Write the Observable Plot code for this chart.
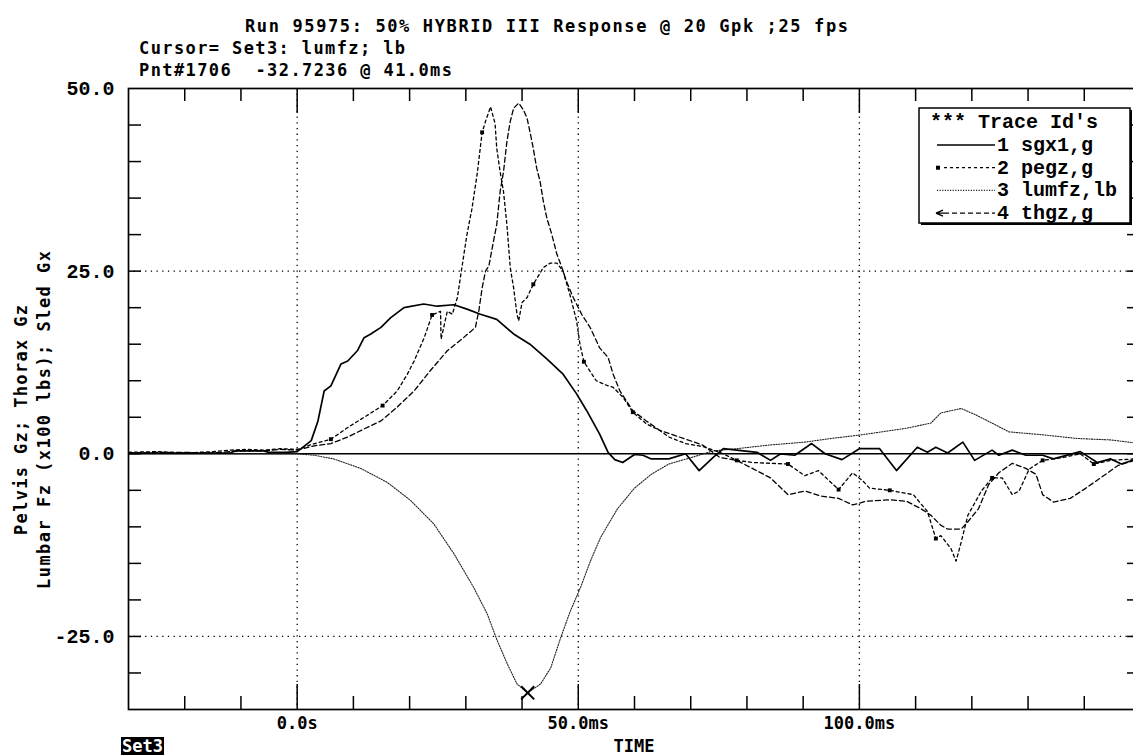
<!DOCTYPE html>
<html><head><meta charset="utf-8">
<script src="https://cdn.jsdelivr.net/npm/d3@7"></script>
<script src="https://cdn.jsdelivr.net/npm/@observablehq/plot@0.6"></script>
<style>html,body{margin:0;padding:0;background:#fff;overflow:hidden}</style>
</head><body><div id="chart"></div>
<script>
// ---- data (time ms, value) ----
const sgx1 = [[-30,0.1],[-20,0.1],[-12,0.1],[-11,0.4],[-6,0.4],[-5,0.2],[-2,0.2],[0,0.3],[0.7,0.7],[2.5,1.8],[3.7,4.5],[4.8,8.6],[6,9.3],[7.8,12.3],[9,12.7],[10.7,14.1],[11.9,15.9],[13.1,16.4],[14.9,17.3],[16.6,18.6],[19,20],[22.5,20.5],[24.9,20.2],[27.9,20.4],[30.2,19.8],[32.6,19.1],[35.5,18.4],[38.5,16.4],[41.4,15],[44.4,13],[47.3,10.9],[49.7,8.2],[51.5,5.9],[53.8,2.7],[55.3,0.2],[56.5,-0.8],[57.9,-1.2],[60,-0.1],[61.5,-0.2],[63,-0.7],[66.1,-0.7],[69.1,0],[71.5,-2.3],[74,-0.5],[75.8,0.7],[78.2,0.5],[81.8,0.2],[84.2,-0.9],[86,0],[88.5,-0.2],[91.5,1.4],[93.9,0],[96.9,-0.8],[100,0.7],[103.6,0.7],[106.6,-2.3],[110.3,0.9],[112.1,0.2],[113.6,0.9],[115.7,0.1],[118.4,1.6],[120.5,-0.9],[123.6,0.5],[124.8,-0.2],[127.2,0.5],[129.6,-0.2],[132.6,-0.2],[134.5,-0.7],[139.3,0.3],[142.3,-1.2],[144.7,-0.7],[146.6,-1.4],[150,-0.5]];

const pegz = [[-30,0.2],[-25,0.3],[-20,0.1],[-15,0.3],[-12,0.5],[-9,0.6],[-6,0.5],[-3,0.7],[0,0.6],[3.1,1.4],[6.0,2.0],[9.0,3.6],[11.9,5.0],[15.2,6.6],[17.8,8.6],[19.6,10.9],[20.8,12.7],[22.6,15.9],[24.0,19.0],[25.5,19.5],[25.6,15.7],[26.7,19.5],[27.6,19.1],[28.5,21.4],[29.3,25.5],[30.2,30],[31.1,33.6],[32.0,38.2],[32.9,44],[33.5,45.5],[34.4,47.5],[35.2,45.2],[35.5,41.8],[36.1,38.6],[36.7,35.9],[37.3,31.4],[37.9,25.5],[38.5,22.7],[39.1,19.1],[39.4,18.2],[40.0,20.7],[40.9,21.4],[42.0,23.2],[43.8,25.5],[45.0,26.1],[46.2,26.1],[47.3,25],[48.5,21.8],[49.7,18.2],[50.3,15],[51.0,12.6],[53.2,10],[55.3,9.3],[56.2,9.1],[58.0,7.7],[59.7,5.7],[62.1,4.1],[64.5,3.2],[66.1,2.3],[69.1,1.4],[72.1,1.0],[75.2,0.2],[78.2,-0.9],[81.2,-1.2],[84.2,-1.3],[87.3,-1.4],[90.3,-3.0],[92.7,-2.3],[96.3,-4.9],[98.8,-2.6],[100.6,-3.7],[101.8,-4.7],[105.4,-5.0],[109.6,-5.6],[112.1,-7.9],[113.6,-11.6],[114.5,-11.2],[116.3,-13.0],[117.2,-14.7],[118.1,-12.1],[119.3,-8.4],[121.7,-5.1],[123.6,-3.3],[125.4,-3.3],[127.2,-5.6],[128.4,-5.1],[130.2,-2.1],[132.6,-0.9],[136.3,-0.5],[139.3,0],[141.7,-1.4],[144.7,-0.9],[148.9,-0.7],[150,-0.6]];
const pegzMarkT = [6.0,15.2,24.0,32.9,42.0,51.0,59.7,78.2,87.3,96.3,105.4,113.6,123.6,132.6,141.7];

const lumfz = [[-30,0],[-10,0],[0,0],[3,-0.2],[6.5,-0.7],[11.3,-2.0],[16,-3.9],[20.2,-6.4],[24.3,-9.6],[27.9,-13.7],[31.4,-18.3],[33.8,-21.9],[35.6,-25.6],[37.4,-28.8],[39.1,-31.5],[41.0,-32.72],[43.3,-31.5],[45.1,-29.3],[46.9,-25.1],[48.6,-21.5],[50.4,-18.3],[52.2,-14.6],[54,-11.4],[57,-7.5],[60,-4.7],[63,-2.8],[66.1,-1.4],[69.7,-0.6],[74,0.4],[78.2,0.7],[84,1.2],[90.3,1.6],[95,2.1],[100.4,2.6],[108.4,3.5],[112.7,4.2],[114.5,5.6],[118.1,6.2],[120.5,5.4],[123.6,4.2],[126.6,3.0],[132.6,2.6],[138.7,2.1],[144.7,1.9],[150,1.4]];

const thgz = [[-30,0.1],[-25,0.2],[-20,0.2],[-15,0.1],[-12,0.3],[-9,0.4],[-6,0.4],[-3,0.6],[0,0.5],[3.1,1.1],[6.0,1.4],[9.0,2.3],[11.9,3.4],[14.9,4.5],[17.8,6.4],[20.8,8.6],[23.7,11.4],[26.7,14.1],[29.6,15.9],[31.7,17.3],[32.3,19.5],[32.9,22.7],[33.5,25],[34.1,25.7],[34.7,28.2],[35.5,31.4],[36.1,35.9],[36.7,38.6],[37.3,42.7],[37.9,45.5],[38.5,47.3],[39.4,48],[40.3,47],[40.9,45.9],[41.4,44.1],[42.0,41.8],[42.6,39.1],[43.2,37.3],[43.8,34.5],[44.4,32.3],[45.3,30],[46.2,27.3],[47.0,25.7],[47.9,23.6],[49.1,21.4],[50.6,19.1],[52.1,17.3],[53.8,14.5],[55.3,13.2],[56.2,10.9],[57.4,8.6],[59.7,5.9],[62.1,4.5],[64.5,3.2],[66.1,2.8],[69.1,2.0],[72.1,1.2],[75.2,-0.5],[78.2,-0.9],[81.2,-2.1],[84.2,-3.3],[87.3,-5.6],[90.3,-5.1],[93.3,-5.8],[96.3,-6.1],[98.8,-7.0],[101.2,-6.5],[105.4,-6.3],[108.4,-6.5],[110.9,-7.5],[112.7,-8.4],[114.5,-9.8],[115.7,-10.3],[118.1,-10.3],[119.3,-9.3],[121.2,-7.5],[123,-4.2],[124.8,-2.6],[127.2,-1.3],[129.6,-2.0],[131.4,-2.8],[132.6,-5.6],[134.5,-6.6],[137.5,-6.1],[139.9,-4.9],[142.9,-3.3],[146,-1.6],[148.9,-0.9],[150,-0.8]];

const xMajor = [0, 50, 100];
const xMajorLabels = ["0.0s", "50.0ms", "100.0ms"];
const xMinor = [-20, -10, 10, 20, 30, 40, 60, 70, 80, 90, 110, 120, 130, 140];
const yMajor = [-25, 0, 25, 50];
const yMinor = [-30, -25, -20, -15, -10, -5, 0, 5, 10, 15, 20, 25, 30, 35, 40, 45];
const yGrid = [25, -25];
const legendRows = ["1 sgx1,g", "2 pegz,g", "3 lumfz,lb", "4 thgz,g"];
const titleText = "Run 95975: 50% HYBRID III Response @ 20 Gpk ;25 fps";
const cursorText = "Cursor= Set3: lumfz; lb";
const pointText = "Pnt#1706  -32.7236 @ 41.0ms";
const yTitle1 = "Pelvis Gz; Thorax Gz";
const yTitle2 = "Lumbar Fz (x100 lbs); Sled Gx";

// ---- layout ----
const W = 1133, H = 756;
const mL = 128, mR = -7, mT = 88, mB = 47;
const xDom = [-30, 150], yDom = [-35, 50];
const pxY = (H - mT - mB) / (yDom[1] - yDom[0]);
const pxX = (W - mR - mL) / (xDom[1] - xDom[0]);
const toObj = a => a.map(([t, v]) => ({t, v}));
const S1 = toObj(sgx1), S2 = toObj(pegz), S3 = toObj(lumfz), S4 = toObj(thgz);
const minL = d3.least(S3, d => d.v);

const styles = {
  sgx1: {stroke: "black", strokeWidth: 1.7},
  pegz: {stroke: "black", strokeWidth: 1.3, strokeDasharray: "3,3"},
  lumfz: {stroke: "#222", strokeWidth: 1.1, strokeDasharray: "1.2,1.4"},
  thgz: {stroke: "black", strokeWidth: 1.3, strokeDasharray: "5,3"}
};

const minorLen = 13, majorLen = 25;
const plot = Plot.plot({
  width: W, height: H,
  marginLeft: mL, marginRight: mR, marginTop: mT, marginBottom: mB,
  x: {domain: xDom}, y: {domain: yDom},
  style: {background: "white", color: "black", overflow: "hidden"},
  marks: [
    Plot.ruleX(xMajor, {stroke: "black", strokeWidth: 1.3, strokeDasharray: "1.3,4.4"}),
    Plot.ruleY(yGrid, {stroke: "black", strokeWidth: 1.3, strokeDasharray: "1.3,4.4"}),
    Plot.ruleY([0], {stroke: "black", strokeWidth: 1.6}),
    Plot.line(S3, {x: "t", y: "v", ...styles.lumfz, clip: "frame"}),
    Plot.line(S4, {x: "t", y: "v", ...styles.thgz, clip: "frame"}),
    Plot.line(S2, {x: "t", y: "v", ...styles.pegz, clip: "frame"}),
    Plot.dot(S2.filter(d => pegzMarkT.includes(d.t)), {x: "t", y: "v", symbol: "square", r: 2.2, fill: "black", stroke: null}),
    Plot.line(S1, {x: "t", y: "v", ...styles.sgx1, clip: "frame"}),
    Plot.dot([minL], {x: "t", y: "v", symbol: "times", r: 6, stroke: "black", strokeWidth: 2}),
    // bottom / top ticks
    Plot.ruleX(xMinor, {y1: yDom[0], y2: yDom[0] + minorLen / pxY, stroke: "black", strokeWidth: 1.5}),
    Plot.ruleX(xMajor, {y1: yDom[0], y2: yDom[0] + majorLen / pxY, stroke: "black", strokeWidth: 1.5}),
    Plot.ruleX(xMinor, {y1: yDom[1], y2: yDom[1] - minorLen / pxY, stroke: "black", strokeWidth: 1.5}),
    Plot.ruleX(xMajor, {y1: yDom[1], y2: yDom[1] - majorLen / pxY, stroke: "black", strokeWidth: 1.5}),
    // left / right ticks
    Plot.ruleY(yMinor, {x1: xDom[0], x2: xDom[0] + minorLen / pxX, stroke: "black", strokeWidth: 1.5}),
    Plot.ruleY(yMinor, {x1: xDom[1], x2: xDom[1] - minorLen / pxX, stroke: "black", strokeWidth: 1.5}),
    Plot.frame({stroke: "black", strokeWidth: 1.7}),
    Plot.axisX(xMajor, {tickSize: 0, tickPadding: 7, label: null,
      tickFormat: d => xMajorLabels[xMajor.indexOf(d)],
      fontFamily: "'DejaVu Sans Mono', monospace", fontSize: 17, fontWeight: "bold"}),
    Plot.axisY(yMajor, {tickSize: 0, tickPadding: 14, label: null,
      tickFormat: d => d.toFixed(1),
      fontFamily: "'Liberation Mono', monospace", fontSize: 20, fontWeight: "bold"})
  ]
});
document.getElementById("chart").appendChild(plot);

// ---- annotations (real text) ----
const svg = d3.select(plot);
const condensed = "'DejaVu Sans Mono', monospace";
function addText(txt, x, y, len, opts = {}) {
  const t = svg.append("text")
    .attr("x", x).attr("y", y)
    .attr("font-family", opts.family || condensed)
    .attr("font-size", opts.size || 17)
    .attr("font-weight", "bold")
    .attr("fill", opts.fill || "black")
    .attr("text-anchor", opts.anchor || "start")
    .style("white-space", "pre")
    .text(txt);
  if (len) t.attr("textLength", len).attr("lengthAdjust", "spacing");
  if (opts.transform) t.attr("transform", opts.transform);
  return t;
}
addText(titleText, 245, 32, 603);
addText(cursorText, 139, 54, 266);
addText(pointText, 139, 76, 313);

// y-axis title (two rotated lines)
const yc = 420;
addText(yTitle1, 0, 0, 230, {anchor: "middle", transform: `translate(27,${yc}) rotate(-90)`});
addText(yTitle2, 0, 0, 338, {anchor: "middle", transform: `translate(50,${yc}) rotate(-90)`});

// bottom labels
const frameCx = mL + (W - mR - mL) / 2;
addText("TIME", frameCx, 752, null, {anchor: "middle"});
svg.append("rect").attr("x", 121).attr("y", 737).attr("width", 43).attr("height", 18).attr("fill", "black");
addText("Set3", 142.5, 752, null, {anchor: "middle", fill: "white"});

// legend
const lg = svg.append("g").attr("text-anchor", "start");
const bx = 919, by = 108, bw = 211, bh = 115;
lg.append("rect").attr("x", bx + 2).attr("y", by + 2).attr("width", bw).attr("height", bh).attr("fill", "black");
lg.append("rect").attr("x", bx).attr("y", by).attr("width", bw).attr("height", bh).attr("fill", "white").attr("stroke", "black").attr("stroke-width", 1.5);
const legFont = "'Liberation Mono', monospace";
lg.append("text").attr("x", 930).attr("y", 128).attr("text-anchor", "start").attr("font-family", legFont).attr("font-size", 20).attr("font-weight", "bold").style("white-space", "pre").text("*** Trace Id's");
const keys = ["sgx1", "pegz", "lumfz", "thgz"];
legendRows.forEach((r, i) => {
  const cy = 145 + i * 22.7;
  const st = styles[keys[i]];
  const ln = lg.append("line").attr("x1", i === 1 || i === 3 ? 944 : 937).attr("x2", 995).attr("y1", cy).attr("y2", cy)
    .attr("stroke", st.stroke).attr("stroke-width", Math.min(st.strokeWidth, 1.4));
  if (st.strokeDasharray) ln.attr("stroke-dasharray", st.strokeDasharray);
  if (i === 1) lg.append("rect").attr("x", 936).attr("y", cy - 2).attr("width", 4).attr("height", 4).attr("fill", "black");
  if (i === 3) lg.append("path").attr("d", `M936,${cy} L943,${cy - 3} M936,${cy} L943,${cy + 3} M936,${cy} L944,${cy}`).attr("stroke", "black").attr("stroke-width", 1.3).attr("fill", "none");
  lg.append("text").attr("x", 997).attr("y", cy + 6).attr("text-anchor", "start").attr("font-family", legFont).attr("font-size", 20).attr("font-weight", "bold").style("white-space", "pre").text(r);
});
</script></body></html>
